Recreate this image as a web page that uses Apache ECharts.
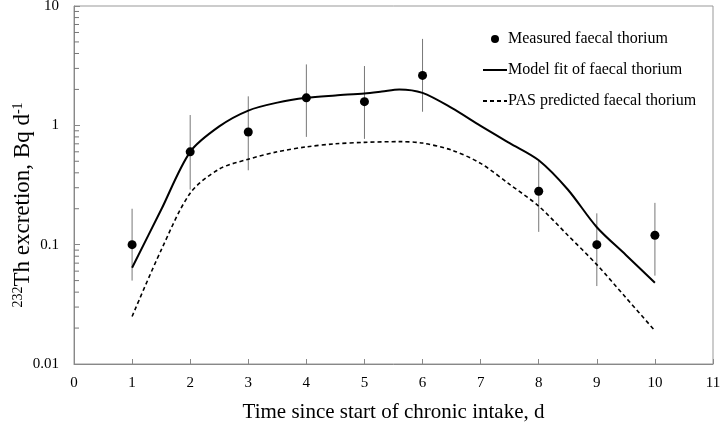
<!DOCTYPE html>
<html>
<head>
<meta charset="utf-8">
<script src="https://cdn.jsdelivr.net/npm/echarts@6/dist/echarts.min.js"></script>
<style>
  html, body { margin: 0; padding: 0; background: #fff; }
  #chart { width: 720px; height: 426px; }
</style>
</head>
<body>
<div id="chart"></div>
<script>
// measured faecal thorium (day, Bq/d) with error bar low / high
var measuredDays = [1, 2, 3, 4, 5, 6, 8, 9, 10];
var measuredVals = [0.10, 0.60, 0.88, 1.70, 1.58, 2.62, 0.28, 0.10, 0.12];
var errLow  = [0.05, 0.29, 0.42, 0.80, 0.77, 1.30, 0.128, 0.045, 0.055];
var errHigh = [0.20, 1.22, 1.75, 3.24, 3.14, 5.30, 0.51, 0.183, 0.224];

// model fit curve
var modelDays = [1, 1.5, 2, 2.5, 3, 3.5, 4, 4.5, 5, 5.3, 5.6, 6, 6.5, 7, 7.5, 8, 8.5, 9, 9.5, 10];
var modelVals = [0.064, 0.196, 0.60, 0.98, 1.33, 1.55, 1.70, 1.78, 1.85, 1.92, 2.0, 1.87, 1.40, 0.99, 0.71, 0.51, 0.29, 0.14, 0.082, 0.048];

// PAS predicted curve
var pasDays = [1, 1.5, 2, 2.5, 3, 3.5, 4, 4.5, 5, 5.6, 6, 6.5, 7, 7.5, 8, 8.5, 9, 9.5, 10];
var pasVals = [0.025, 0.09, 0.27, 0.43, 0.52, 0.60, 0.66, 0.70, 0.72, 0.73, 0.71, 0.62, 0.48, 0.32, 0.21, 0.12, 0.068, 0.036, 0.019];

// log axis minor ticks (2..9 of each decade)
var minorTicks = [];
[0.01, 0.1, 1].forEach(function (d) {
    for (var k = 2; k <= 9; k++) minorTicks.push([0.0001, +(d * k).toPrecision(3)]);
});

var serif = 'Liberation Serif';
var myChart = echarts.init(document.getElementById('chart'));

var option = {
    animation: false,
    backgroundColor: '#fff',
    textStyle: { fontFamily: serif, color: '#000' },
    grid: {
        left: 74, right: 7, top: 6, bottom: 62,
        outerBoundsMode: 'none',
        show: true, borderColor: '#999', borderWidth: 1
    },
    legend: {
        data: [
            { name: 'Measured faecal thorium', icon: 'circle' },
            { name: 'Model fit of faecal thorium', itemStyle: { opacity: 0 } },
            { name: 'PAS predicted faecal thorium', itemStyle: { opacity: 0 } }
        ],
        orient: 'vertical',
        left: 477, top: 26,
        itemWidth: 24, itemHeight: 8, itemGap: 15,
        textStyle: { fontFamily: serif, fontSize: 16, color: '#000', padding: [0, 0, 0, -4] }
    },
    xAxis: {
        type: 'value', min: 0, max: 11, interval: 1,
        name: 'Time since start of chronic intake, d',
        nameLocation: 'middle', nameGap: 38,
        nameTextStyle: { fontFamily: serif, fontSize: 21, color: '#000' },
        axisLine: { lineStyle: { color: '#888' } },
        axisTick: { inside: true, length: 5, lineStyle: { color: '#888' } },
        axisLabel: { fontFamily: serif, fontSize: 15, color: '#000', margin: 12 },
        splitLine: { show: false }
    },
    yAxis: {
        type: 'log', logBase: 10, min: 0.01, max: 10,
        name: '{sup|232}Th excretion, Bq d{sup|-1}',
        nameLocation: 'middle', nameGap: 40, nameRotate: 90,
        nameMoveOverlap: false,
        nameTextStyle: {
            fontFamily: serif, fontSize: 23, color: '#000',
            padding: [0, 40, 0, 0],
            rich: {
                sup: { fontFamily: serif, fontSize: 14, color: '#000', verticalAlign: 'top', padding: [0, 0, 9, 0] }
            }
        },
        axisLine: { show: true, lineStyle: { color: '#888' } },
        axisTick: { inside: true, length: 6, lineStyle: { color: '#888' } },
        axisLabel: {
            fontFamily: serif, fontSize: 15, color: '#000', margin: 15,
            formatter: function (v) { return String(+v.toPrecision(3)); }
        },
        splitLine: { show: false }
    },
    series: [
        {
            // error bars
            type: 'custom',
            silent: true,
            data: measuredDays.map(function (d, i) { return [d, errLow[i], errHigh[i]]; }),
            renderItem: function (params, api) {
                var lo = api.coord([api.value(0), api.value(1)]);
                var hi = api.coord([api.value(0), api.value(2)]);
                return {
                    type: 'line',
                    shape: { x1: lo[0], y1: lo[1], x2: hi[0], y2: hi[1] },
                    style: { stroke: '#777', lineWidth: 1 }
                };
            },
            z: 1
        },
        {
            // minor ticks on the log axis
            type: 'custom',
            silent: true,
            clip: false,
            encode: { x: 0, y: 1 },
            data: minorTicks,
            renderItem: function (params, api) {
                var p = api.coord([api.value(0), api.value(1)]);
                return {
                    type: 'line',
                    shape: { x1: p[0], y1: p[1], x2: p[0] + 5, y2: p[1] },
                    style: { stroke: '#777', lineWidth: 1 }
                };
            },
            z: 10
        },
        {
            name: 'Measured faecal thorium',
            type: 'scatter',
            symbol: 'circle',
            symbolSize: 9,
            itemStyle: { color: '#000', opacity: 1 },
            data: measuredDays.map(function (d, i) { return [d, measuredVals[i]]; }),
            z: 5
        },
        {
            name: 'Model fit of faecal thorium',
            type: 'line',
            smooth: 0.3,
            symbol: 'none',
            lineStyle: { color: '#000', width: 2 },
            itemStyle: { color: '#000' },
            data: modelDays.map(function (d, i) { return [d, modelVals[i]]; }),
            z: 3
        },
        {
            name: 'PAS predicted faecal thorium',
            type: 'line',
            smooth: 0.3,
            symbol: 'none',
            lineStyle: { color: '#000', width: 1.6, type: [4, 3] },
            itemStyle: { color: '#000' },
            data: pasDays.map(function (d, i) { return [d, pasVals[i]]; }),
            z: 3
        }
    ]
};

myChart.setOption(option);
window.addEventListener('resize', function () {
    myChart.resize();
});
</script>
</body>
</html>
